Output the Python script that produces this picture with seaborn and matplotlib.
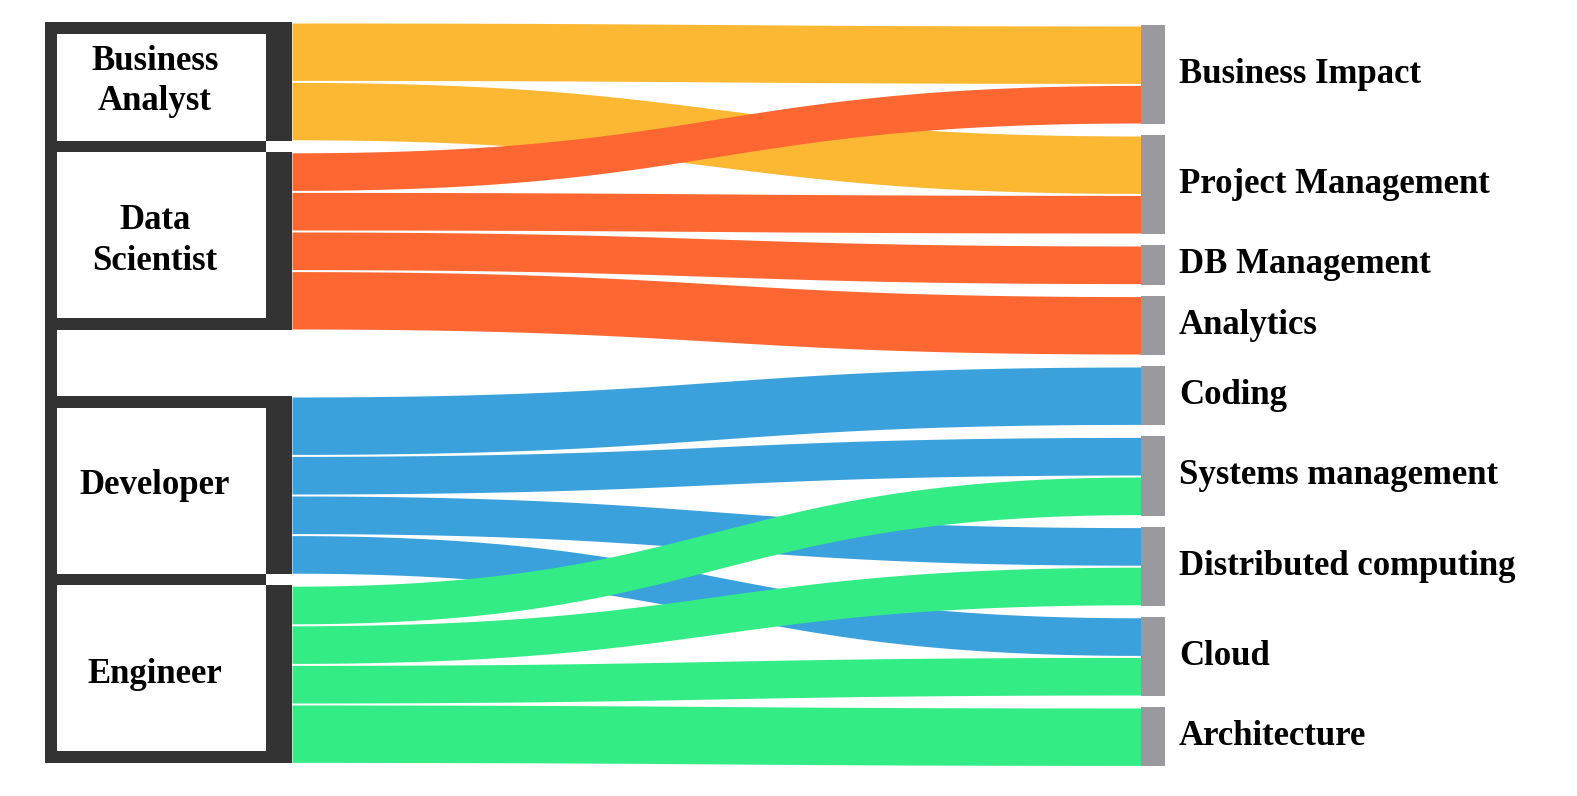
import numpy as np
import matplotlib.pyplot as plt
import seaborn as sns

# nodes
sources = ["Business\nAnalyst", "Data\nScientist", "Developer", "Engineer"]
targets = ["Business Impact", "Project Management", "DB Management", "Analytics",
           "Coding", "Systems management", "Distributed computing", "Cloud",
           "Architecture"]

# links (source index -> target index, value)
link_src = [0, 0, 1, 1, 1, 1, 2, 2, 2, 2, 3, 3, 3, 3]
link_tgt = [0, 1, 0, 1, 2, 3, 4, 5, 6, 7, 5, 6, 7, 8]
link_val = [3, 3, 2, 2, 2, 3, 3, 2, 2, 2, 2, 2, 2, 3]

src_colors = ["#FDB833", "#FE6632", "#3AA1DC", "#33EC85"]

sns.set_theme(style="white")
plt.rcParams['font.family'] = ['Liberation Serif', 'DejaVu Serif']

W, H = 1577, 796
PX = 19.8            # pixels per unit of flow
dark = "#333333"
node_grey = "#9A9A9E"

# layout of the columns (pixels)
frame_x = 45
frame_w = 12
lnode_x0, lnode_x1 = 266, 292
rnode_x0, rnode_x1 = 1141, 1165
left_top, right_top = 22, 25
left_gaps = [11, 66, 11]
right_gap = 11

src_tot = np.zeros(len(sources))
tgt_tot = np.zeros(len(targets))
for s, t, v in zip(link_src, link_tgt, link_val):
    src_tot[s] += v
    tgt_tot[t] += v

src_y = []
y = left_top
for i, v in enumerate(src_tot):
    src_y.append(y)
    y += v * PX
    if i < len(left_gaps):
        y += left_gaps[i]
tgt_y = []
y = right_top
for v in tgt_tot:
    tgt_y.append(y)
    y += v * PX + right_gap

fig = plt.figure(figsize=(W / 100, H / 100), dpi=100)
ax = fig.add_axes([0, 0, 1, 1])
ax.set_xlim(0, W)
ax.set_ylim(H, 0)
ax.axis("off")

# flows
src_cur = list(src_y)
order = sorted(range(len(link_val)), key=lambda k: (link_src[k], link_tgt[k]))
tgt_order = {}
for t in range(len(targets)):
    ks = sorted([k for k in range(len(link_val)) if link_tgt[k] == t], key=lambda k: link_src[k])
    yy = tgt_y[t]
    for k in ks:
        tgt_order[k] = yy
        yy += link_val[k] * PX

tt = np.linspace(0, 1, 300)
xm = (lnode_x1 + rnode_x0) / 2
xs = (lnode_x1 * (1 - tt) ** 3 + xm * (3 * (1 - tt) ** 2 * tt + 3 * (1 - tt) * tt ** 2)
      + rnode_x0 * tt ** 3)
ease = 3 * tt ** 2 - 2 * tt ** 3
inset = 1.0
for k in order:
    s, t, v = link_src[k], link_tgt[k], link_val[k]
    ys0 = src_cur[s]
    src_cur[s] += v * PX
    yt0 = tgt_order[k]
    top = ys0 + (yt0 - ys0) * ease
    ax.fill_between(xs, top + inset, top + v * PX - inset, color=src_colors[s], lw=0)

# right nodes
ax.bar([(rnode_x0 + rnode_x1) / 2] * len(targets), tgt_tot * PX, bottom=tgt_y,
       width=rnode_x1 - rnode_x0, color=node_grey, lw=0)
for name, y0, v in zip(targets, tgt_y, tgt_tot):
    ax.text(rnode_x1 + 14, y0 + v * PX / 2, name, ha="left", va="center",
            fontsize=25, fontweight="bold", color="black")

# left nodes with the table-like frame
ax.bar([(lnode_x0 + lnode_x1) / 2] * len(sources), src_tot * PX, bottom=src_y,
       width=lnode_x1 - lnode_x0, color=dark, lw=0)
src_bot = [y0 + v * PX for y0, v in zip(src_y, src_tot)]
ax.bar(frame_x + frame_w / 2, src_bot[-1] - src_y[0], bottom=src_y[0],
       width=frame_w, color=dark, lw=0)
borders = []
for i in range(len(sources)):
    if i == 0 or left_gaps[i - 1] > 2 * frame_w:
        borders.append((src_y[i], frame_w))
    else:
        borders.append((src_bot[i - 1], src_y[i] - src_bot[i - 1]))
    if i == len(sources) - 1 or left_gaps[i] > 2 * frame_w:
        borders.append((src_bot[i] - frame_w, frame_w))
for y0, h in borders:
    ax.barh(y0 + h / 2, lnode_x0 - frame_x, left=frame_x, height=h, color=dark, lw=0)

for name, y0, v in zip(sources, src_y, src_tot):
    ax.text(155, y0 + v * PX / 2, name, ha="center", va="center", fontsize=25,
            fontweight="bold", color="black", linespacing=1.3)

fig.savefig("out.png", dpi=100, facecolor="white")
